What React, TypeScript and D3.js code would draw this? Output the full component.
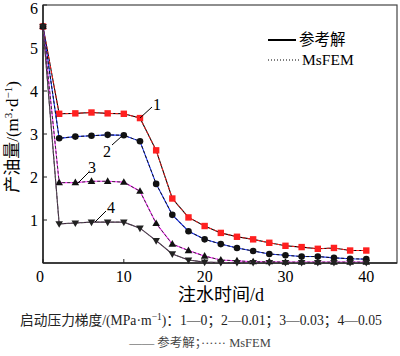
import React from "react";
import * as d3 from "d3";

const times = [0, 2, 4, 6, 8, 10, 12, 14, 16, 18, 20, 22, 24, 26, 28, 30, 32, 34, 36, 38, 40];
const series1 = [5.5, 3.47, 3.48, 3.5, 3.48, 3.47, 3.37, 2.62, 1.5, 1.06, 0.86, 0.7, 0.61, 0.55, 0.47, 0.4, 0.37, 0.33, 0.35, 0.29, 0.29];
const series2 = [5.5, 2.9, 2.94, 2.96, 2.98, 2.97, 2.83, 1.84, 1.12, 0.74, 0.55, 0.44, 0.35, 0.28, 0.21, 0.18, 0.15, 0.15, 0.12, 0.1, 0.09];
const series3 = [5.5, 1.87, 1.87, 1.9, 1.9, 1.88, 1.67, 0.92, 0.44, 0.29, 0.16, 0.07, 0.05, 0.03, 0.03, 0.02, 0.02, 0.02, 0.02, 0.02, 0.02];
const series4 = [5.5, 0.91, 0.93, 0.95, 0.95, 0.95, 0.81, 0.52, 0.21, 0.07, 0.02, 0.01, 0.01, 0.01, 0.01, 0.01, 0.01, 0.01, 0.01, 0.01, 0.01];
const xTicks = [0, 10, 20, 30, 40];
const yTicks = [1, 2, 3, 4, 5, 6];
const seriesLabels = ["1", "2", "3", "4"];

const serif = "'Liberation Serif', 'Noto Sans CJK SC', serif";

export default function App() {
  const left = 43, right = 397, top = 5, bottom = 263;
  const x = d3.scaleLinear().domain([0, 43.8]).range([left, right]);
  const y = d3.scaleLinear().domain([0, 6]).range([bottom, top]);
  const line = d3.line<number>().x((_, i) => x(times[i])).y((d) => y(d));

  const cfg = [
    { data: series1, color: "#ff2020", marker: "square", solid: "#000", dash: "#ff2020" },
    { data: series2, color: "#111", marker: "circle", solid: "#1a35ff", dash: "#111" },
    { data: series3, color: "#111", marker: "up", solid: "#ff33ff", dash: "#333" },
    { data: series4, color: "#222", marker: "down", solid: "#402040", dash: "#555" },
  ];

  const marker = (type: string, cx: number, cy: number, color: string, key: string) => {
    if (type === "square") return <rect key={key} x={cx - 3.2} y={cy - 3.2} width={6.4} height={6.4} fill={color} />;
    if (type === "circle") return <circle key={key} cx={cx} cy={cy} r={3.3} fill={color} />;
    if (type === "up") return <path key={key} d={`M${cx},${cy - 4} L${cx + 3.8},${cy + 2.6} L${cx - 3.8},${cy + 2.6}Z`} fill={color} />;
    return <path key={key} d={`M${cx},${cy + 4} L${cx + 3.8},${cy - 2.6} L${cx - 3.8},${cy - 2.6}Z`} fill={color} />;
  };

  const annots = [
    { label: seriesLabels[0], x1: 140, y1: 118, x2: 152, y2: 107, tx: 153, ty: 110 },
    { label: seriesLabels[1], x1: 122, y1: 136, x2: 112, y2: 145, tx: 103, ty: 157 },
    { label: seriesLabels[2], x1: 78, y1: 183, x2: 89, y2: 172, tx: 88, ty: 173 },
    { label: seriesLabels[3], x1: 95, y1: 222, x2: 106, y2: 211, tx: 107, ty: 213 },
  ];

  return (
    <svg width={400} height={356} style={{ position: "absolute", left: 0, top: 0, background: "#fff" }} fontFamily={serif}>
      <rect x={0} y={0} width={400} height={356} fill="#fff" />
      <rect x={left} y={top} width={right - left} height={bottom - top} fill="none" stroke="#444" strokeWidth={1.2} />
      <line x1={left} y1={bottom} x2={right} y2={bottom} stroke="#222" strokeWidth={1.5} />
      <line x1={left} y1={top} x2={left} y2={bottom} stroke="#222" strokeWidth={1.5} />
      {xTicks.map((t) => (
        <g key={"xt" + t}>
          <line x1={x(t)} x2={x(t)} y1={bottom} y2={bottom - 4} stroke="#222" />
          <text x={x(t) - (t === 0 ? 3 : 0)} y={bottom + 19} fontSize={16} textAnchor="middle">{t}</text>
        </g>
      ))}
      {yTicks.map((t) => (
        <g key={"yt" + t}>
          <line x1={left} x2={left + 4} y1={y(t)} y2={y(t)} stroke="#222" />
          <text x={left - 5} y={y(t) + (t === 6 ? 9 : 6)} fontSize={16} textAnchor="end">{t}</text>
        </g>
      ))}
      {cfg.map((s, si) => (
        <g key={"s" + si}>
          <path d={line(s.data) || ""} fill="none" stroke={s.solid} strokeWidth={1.1} />
          <path d={line(s.data) || ""} fill="none" stroke={s.dash} strokeWidth={1} strokeDasharray="3,2" />
          {s.data.map((v, i) => marker(s.marker, x(times[i]), y(v), s.color, si + "-" + i))}
        </g>
      ))}
      {annots.map((a) => (
        <g key={"a" + a.label}>
          <line x1={a.x1} y1={a.y1} x2={a.x2} y2={a.y2} stroke="#000" strokeWidth={1} />
          <text x={a.tx} y={a.ty} fontSize={16}>{a.label}</text>
        </g>
      ))}
      <line x1={268} x2={296} y1={40} y2={40} stroke="#000" strokeWidth={2} />
      <text x={299} y={45} fontSize={15.5}>参考解</text>
      <line x1={268} x2={300} y1={60} y2={60} stroke="#000" strokeWidth={1.2} strokeDasharray="1,2" />
      <text x={302} y={65} fontSize={15.5}>MsFEM</text>
      <text x={221} y={301} fontSize={18} textAnchor="middle">注水时间/d</text>
      <text transform="translate(18,137) rotate(-90)" fontSize={17} textAnchor="middle">
        产油量/(m<tspan fontSize={11} dy={-6}>3</tspan><tspan dy={6}>·d</tspan><tspan fontSize={11} dy={-6}>−1</tspan><tspan dy={6}>)</tspan>
      </text>
      <text x={201} y={325} fontSize={13.7} textAnchor="middle" fill="#222">
        启动压力梯度/(MPa·m<tspan fontSize={9.5} dy={-5}>−1</tspan><tspan dy={5}>)：1—0；2—0.01；3—0.03；4—0.05</tspan>
      </text>
      <text x={200} y={347} fontSize={12.5} textAnchor="middle" fill="#444">
        —— 参考解；······ MsFEM
      </text>
    </svg>
  );
}
